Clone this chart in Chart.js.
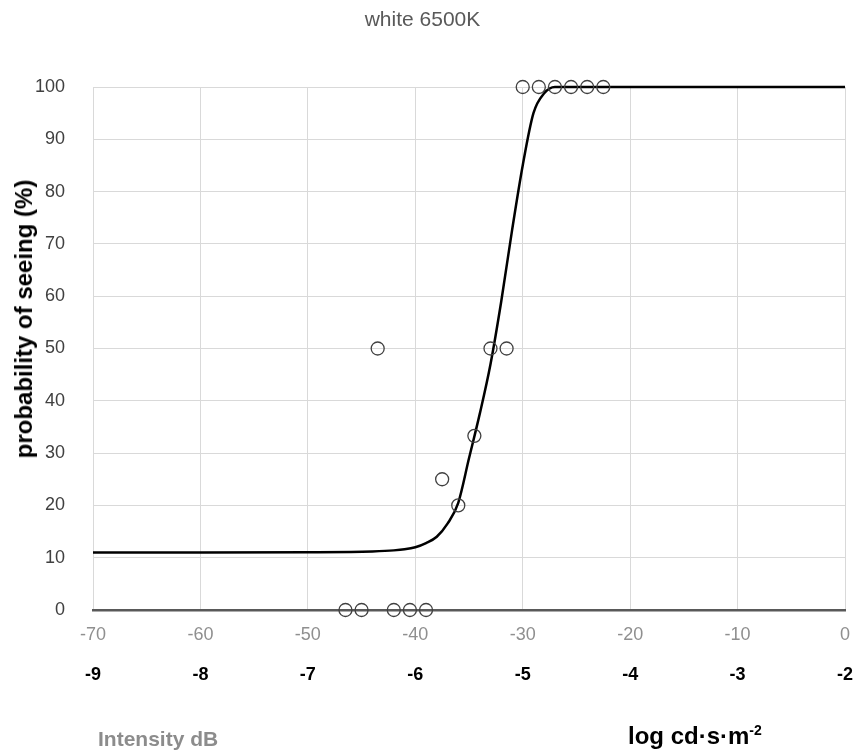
<!DOCTYPE html>
<html>
<head>
<meta charset="utf-8">
<script src="https://cdn.jsdelivr.net/npm/chart.js@4.4.1/dist/chart.umd.min.js"></script>
<style>
    body { margin: 0; background: #fff; }
    #wrap { position: relative; width: 856px; height: 753px; }
    .axis-note { position: absolute; font-family: 'Liberation Sans', Arial, sans-serif; font-weight: bold; white-space: nowrap; line-height: 1; }
    #note-y { left: 24px; top: 319px; font-size: 24px; color: #000; transform: translate(-50%, -50%) rotate(-90deg); }
    #note-db { left: 98px; top: 728px; font-size: 21px; color: #8c8c8c; }
    #note-log { left: 628px; top: 724px; font-size: 24px; color: #000; }
    #note-log sup { font-size: 14px; vertical-align: 9px; line-height: 0; }
</style>
</head>
<body>
<div id="wrap">
    <canvas id="chart"></canvas>
    <div class="axis-note" id="note-y">probability of seeing (%)</div>
    <div class="axis-note" id="note-db">Intensity dB</div>
    <div class="axis-note" id="note-log">log cd·s·m<sup>-2</sup></div>
</div>
<script>
// measured points (intensity in dB, probability of seeing in %)
const intensityDb = [-46.5, -45, -42, -40.5, -39, -43.5, -37.5, -36, -34.5, -33, -31.5, -30, -28.5, -27, -25.5, -24, -22.5];
const seeingPct   = [0, 0, 0, 0, 0, 50, 25, 20, 33.3, 50, 50, 100, 100, 100, 100, 100, 100];

// fitted psychometric curve
const fitDb  = [-70, -60, -50, -46, -44, -42, -41, -40, -39, -38, -37, -36, -35, -34, -33, -32, -31, -30, -29, -28, -27, -26, -20, -10, 0];
const fitPct = [11, 11, 11.05, 11.1, 11.2, 11.4, 11.6, 12, 12.8, 14, 16.5, 20.5, 29, 37.5, 47, 59, 72.5, 85, 95, 98.8, 100, 100, 100, 100, 100];

// tick values
const dbTicks  = [-70, -60, -50, -40, -30, -20, -10, 0];
const logTicks = [-9, -8, -7, -6, -5, -4, -3, -2];
const pctTicks = [0, 10, 20, 30, 40, 50, 60, 70, 80, 90, 100];

const sans = "'Liberation Sans', Arial, sans-serif";

document.addEventListener('DOMContentLoaded', () => {
    initChart();
});

function initChart() {
    const ctx = document.getElementById('chart').getContext('2d');

    const measured = intensityDb.map((x, i) => ({ x: x, y: seeingPct[i] }));
    const fitted = fitDb.map((x, i) => ({ x: x, y: fitPct[i] }));

    // keep the bottom axes from pushing the plot area in
    const fitBottom = (h) => (scale) => {
        scale.height = h;
        scale.paddingLeft = 0;
        scale.paddingRight = 0;
    };

    new Chart(ctx, {
        type: 'scatter',
        data: {
            datasets: [{
                label: 'measured',
                data: measured,
                xAxisID: 'x',
                pointStyle: 'circle',
                pointRadius: 6.5,
                pointBorderWidth: 1.3,
                pointBorderColor: '#404040',
                pointBackgroundColor: 'rgba(0,0,0,0)',
                showLine: false,
                clip: false,
                order: 1
            }, {
                label: 'fit',
                data: fitted,
                xAxisID: 'x',
                showLine: true,
                borderColor: '#000',
                borderWidth: 2.5,
                pointRadius: 0,
                cubicInterpolationMode: 'monotone',
                fill: false,
                clip: false,
                order: 2
            }]
        },
        options: {
            responsive: true,
            maintainAspectRatio: false,
            animation: false,
            layout: { padding: { top: 0, right: 11, bottom: 53, left: 0 } },
            plugins: {
                legend: { display: false },
                tooltip: { enabled: false },
                title: {
                    display: true,
                    text: 'white 6500K',
                    color: '#595959',
                    font: { family: sans, size: 21, weight: 'normal' },
                    padding: { top: 8, bottom: 53.8 }
                }
            },
            scales: {
                x: {
                    type: 'linear',
                    position: 'bottom',
                    min: -70,
                    max: 0,
                    afterBuildTicks: (scale) => { scale.ticks = dbTicks.map(v => ({ value: v })); },
                    afterFit: fitBottom(40),
                    grid: { color: '#d9d9d9', lineWidth: 1, drawTicks: false },
                    border: { display: true, color: '#595959', width: 2.5 },
                    ticks: { color: '#8f8f8f', padding: 14, font: { family: sans, size: 18 } }
                },
                x2: {
                    type: 'linear',
                    position: 'bottom',
                    min: -9,
                    max: -2,
                    afterBuildTicks: (scale) => { scale.ticks = logTicks.map(v => ({ value: v })); },
                    afterFit: fitBottom(50),
                    grid: { display: false, drawTicks: false },
                    border: { display: false },
                    ticks: { color: '#000', padding: 14, font: { family: sans, size: 18, weight: 'bold' } }
                },
                y: {
                    type: 'linear',
                    min: 0,
                    max: 100,
                    afterBuildTicks: (scale) => { scale.ticks = pctTicks.map(v => ({ value: v })); },
                    afterFit: (scale) => { scale.width = 93; },
                    grid: { color: '#d9d9d9', lineWidth: 1, drawTicks: false },
                    border: { display: false },
                    ticks: { color: '#404040', padding: 28, font: { family: sans, size: 18 } }
                }
            }
        }
    });
}
</script>
</body>
</html>
